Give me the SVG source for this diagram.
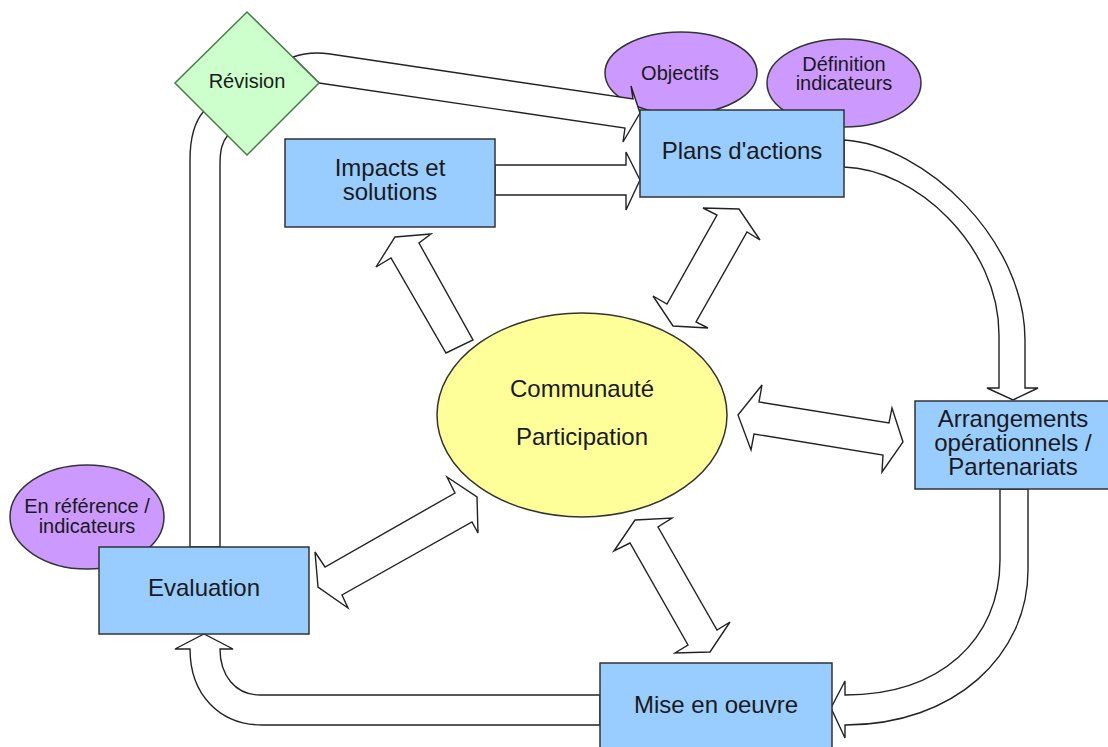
<svg xmlns="http://www.w3.org/2000/svg" width="1108" height="747" viewBox="0 0 1108 747">
<style>
.box{fill:#99ccff;stroke:#333;stroke-width:1.5}
.oval{fill:#cc99ff;stroke:#333;stroke-width:1.5}
.arr{fill:#fff;stroke:#222;stroke-width:1.4;stroke-linejoin:miter}
.big{font-family:"Liberation Sans",Arial,sans-serif;font-size:24px;fill:#1a1a1a;text-anchor:middle}
.sm{font-family:"Liberation Sans",Arial,sans-serif;font-size:20px;fill:#1a1a1a;text-anchor:middle}
</style>
<rect width="1108" height="747" fill="#fff"/>
<g id="objectifs"><ellipse class="oval" cx="681" cy="73" rx="76" ry="41"/><text class="sm" x="680" y="80">Objectifs</text></g>
<g id="definition-indicateurs"><ellipse class="oval" cx="844" cy="83" rx="77" ry="44"/><text class="sm" x="844" y="71">Définition</text><text class="sm" x="844" y="90">indicateurs</text></g>
<g id="en-reference"><ellipse class="oval" cx="87" cy="517" rx="77" ry="52"/><text class="sm" x="87" y="513">En référence /</text><text class="sm" x="87" y="533">indicateurs</text></g>
<g id="connectors">
<path class="arr" d="M319,83 L625,128 L623,142 L640,113 L631,86 L633,99 L330,54 Q310,51 293,57 Z"/>
<path class="arr" d="M495,165 L626,165 L626,152 L640,180 L626,210 L626,195 L495,195 Z"/>
<path class="arr" d="M844,140 C925,145 1025,240 1025,340 L1025,388 L1038,388 L1013,400 L987,388 L999,388 L999,335 C999,245 915,169 844,167 Z"/>
<path class="arr" d="M1000,489 L1000,560 C1000,640 940,695 845,695 L845,681 L831,708 L845,738 L845,725 C955,725 1028,655 1028,570 L1028,489 Z"/>
<path class="arr" d="M600,695 L260,695 C235,695 220,675 220,649 L233,649 L204,634 L175,649 L190,649 C190,695 220,725 262,725 L600,725 Z"/>
<path class="arr" d="M190,547 L190,160 C190,135 196,120 204,111 L228,135 C222,142 220,150 220,165 L220,547 Z"/>
<polygon class="arr" points="395,237 431,234 419,243 473,340 446,353 391,258 376,267"/>
<polygon class="arr" points="703,208 739,209 760,240 747,232 696,322 708,328 673,326 653,296 667,304 717,215"/>
<polygon class="arr" points="738,415 762,385 759,402 889,423 892,408 903,442 882,472 883,455 754,434 751,450"/>
<polygon class="arr" points="318,587 315,552 325,567 455,493 447,477 477,497 478,533 472,522 342,595 348,608"/>
<polygon class="arr" points="635,520 672,518 658,527 717,630 730,622 710,652 675,653 688,645 630,543 614,551"/>
</g>
<g id="revision"><polygon points="247,12 319,83 247,155 175,83" fill="#ccffcc" stroke="#4d7a4d" stroke-width="1.5"/><text class="sm" x="247" y="88">Révision</text></g>
<g id="impacts-solutions"><rect class="box" x="285" y="139" width="210" height="88"/><text class="big" x="390" y="176">Impacts et</text><text class="big" x="390" y="200">solutions</text></g>
<g id="plans-actions"><rect class="box" x="640" y="110" width="204" height="87"/><text class="big" x="742" y="159">Plans d'actions</text></g>
<g id="communaute"><ellipse cx="582" cy="415" rx="145" ry="102" fill="#ffff99" stroke="#333" stroke-width="1.5"/><text class="big" x="582" y="397">Communauté</text><text class="big" x="582" y="445">Participation</text></g>
<g id="arrangements"><rect class="box" x="915" y="401" width="195" height="88"/><text class="big" x="1013" y="427">Arrangements</text><text class="big" x="1013" y="451">opérationnels /</text><text class="big" x="1013" y="475">Partenariats</text></g>
<g id="mise-en-oeuvre"><rect class="box" x="600" y="663" width="232" height="90"/><text class="big" x="716" y="713">Mise en oeuvre</text></g>
<g id="evaluation"><rect class="box" x="99" y="547" width="210" height="87"/><text class="big" x="204" y="596">Evaluation</text></g>
</svg>
